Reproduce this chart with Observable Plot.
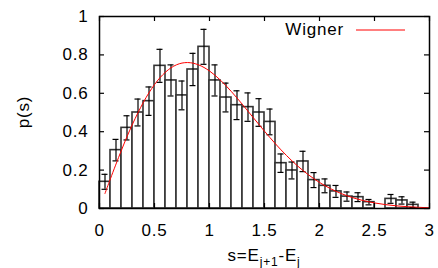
<!DOCTYPE html>
<html><head><meta charset="utf-8">
<script src="https://cdn.jsdelivr.net/npm/d3@7"></script>
<script src="https://cdn.jsdelivr.net/npm/@observablehq/plot@0.6"></script>
<style>body{margin:0;background:#fff}</style>
</head><body><div id="chart"></div>
<script>
// Histogram bins (left edges), width 0.1
const binStart = [0.0,0.1,0.2,0.3,0.4,0.5,0.6,0.7,0.8,0.9,1.0,1.1,1.2,1.3,1.4,1.5,1.6,1.7,1.8,1.9,2.0,2.1,2.2,2.3,2.4,2.5,2.6,2.7,2.8,2.9];
const binWidth = 0.1;
const pValues = [0.139,0.304,0.420,0.500,0.559,0.743,0.667,0.589,0.724,0.842,0.667,0.578,0.538,0.528,0.500,0.451,0.236,0.198,0.245,0.148,0.118,0.089,0.062,0.059,0.033,0.0,0.050,0.042,0.019,0.0];
const pErrors = [0.039,0.056,0.063,0.070,0.074,0.086,0.081,0.075,0.084,0.091,0.081,0.075,0.075,0.074,0.072,0.067,0.048,0.044,0.053,0.039,0.036,0.031,0.024,0.023,0.014,0.0,0.023,0.019,0.014,0.0];
// Wigner curve samples
const wignerS = [0.05,0.1,0.2,0.3,0.4,0.5,0.6,0.7,0.8,0.9,1.0,1.1,1.2,1.3,1.4,1.5,1.6,1.7,1.8,1.9,2.0,2.1,2.2,2.3,2.4,2.5,2.6,2.7,2.8,2.9,3.0];
const wignerP = [0.0784,0.1559,0.3044,0.4391,0.5541,0.6454,0.7103,0.7484,0.7602,0.7483,0.7162,0.6680,0.6083,0.5415,0.4717,0.4025,0.3365,0.2759,0.2219,0.1753,0.1358,0.1033,0.0772,0.0567,0.0409,0.0290,0.0202,0.0138,0.0093,0.0062,0.0040];
const xTicks = [0,0.5,1,1.5,2,2.5,3];
const yTicks = [0,0.2,0.4,0.6,0.8,1];
const legendLabel = "Wigner";
const yLabel = "p(s)";

const bins = binStart.map((x, i) => ({x1: x, x2: x + binWidth, mid: x + binWidth/2, p: pValues[i], lo: pValues[i] - pErrors[i], hi: pValues[i] + pErrors[i], e: pErrors[i]}));
const errs = bins.filter(d => d.e > 0);
const wigner = wignerS.map((s, i) => ({s, p: wignerP[i]}));

const W = 438, H = 268, mL = 99, mR = 9, mT = 16, mB = 60;
const iw = W - mL - mR, ih = H - mT - mB;
const tk = 5;
const fmt = d => String(d);

const svg = Plot.plot({
  width: W, height: H,
  marginLeft: mL, marginRight: mR, marginTop: mT, marginBottom: mB,
  style: {fontFamily: "Liberation Sans, Arial, sans-serif", fontSize: "17px", letterSpacing: "0.8px", background: "white", color: "black"},
  x: {domain: [0, 3]},
  y: {domain: [0, 1]},
  marks: [
    Plot.rectY(bins, {x1: "x1", x2: "x2", y: "p", fill: "white", stroke: "#333", strokeWidth: 1.6}),
    Plot.ruleX(errs, {x: "mid", y1: "lo", y2: "hi", stroke: "black", strokeWidth: 1.2}),
    Plot.ruleY(errs, {x1: "mid", x2: "mid", y: "lo", insetLeft: -3, insetRight: -3, stroke: "black", strokeWidth: 1.2}),
    Plot.ruleY(errs, {x1: "mid", x2: "mid", y: "hi", insetLeft: -3, insetRight: -3, stroke: "black", strokeWidth: 1.2}),
    Plot.line(wigner, {x: "s", y: "p", stroke: "red", strokeWidth: 1, curve: "natural"}),
    Plot.ruleX(xTicks, {x: d => d, insetTop: ih - tk, stroke: "black", strokeWidth: 1.2}),
    Plot.ruleX(xTicks, {x: d => d, insetBottom: ih - tk, stroke: "black", strokeWidth: 1.2}),
    Plot.ruleY(yTicks, {y: d => d, insetRight: iw - tk, stroke: "black", strokeWidth: 1.2}),
    Plot.ruleY(yTicks, {y: d => d, insetLeft: iw - tk, stroke: "black", strokeWidth: 1.2}),
    Plot.axisX({ticks: xTicks, tickFormat: fmt, tickSize: 0, tickPadding: 15, label: null}),
    Plot.axisY({ticks: yTicks, tickFormat: fmt, tickSize: 0, tickPadding: 11, label: null}),
    Plot.frame({stroke: "black", strokeWidth: 1.5})
  ]
});

const s = d3.select(svg);
// legend
s.append("text").attr("x", 344).attr("y", 35).attr("text-anchor", "end").attr("fill", "black").text(legendLabel);
s.append("line").attr("x1", 356).attr("x2", 405).attr("y1", 30).attr("y2", 30).attr("stroke", "red").attr("stroke-width", 1);
// y label
s.append("text").attr("transform", "translate(29,112) rotate(-90)").attr("text-anchor", "middle").attr("fill", "black").text(yLabel);
// x label with subscripts
const xl = s.append("text").attr("x", 264).attr("y", 261).attr("text-anchor", "middle").attr("fill", "black");
xl.append("tspan").text("s=E");
xl.append("tspan").attr("font-size", "12px").attr("dy", 5).text("j+1");
xl.append("tspan").attr("dy", -5).text("-E");
xl.append("tspan").attr("font-size", "12px").attr("dy", 5).text("j");

document.getElementById("chart").appendChild(svg);
</script>
</body></html>
